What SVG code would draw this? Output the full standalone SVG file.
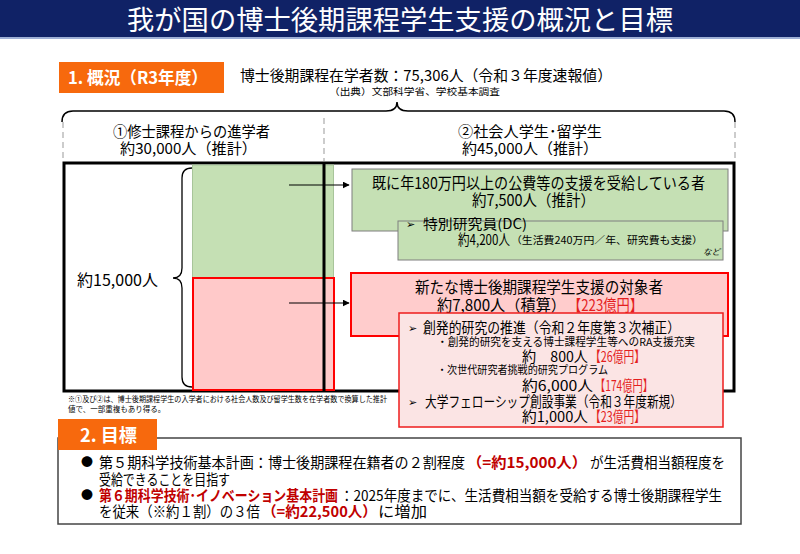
<svg xmlns="http://www.w3.org/2000/svg" width="800" height="554" viewBox="0 0 800 554">
<style>
text{font-family:"Noto Sans CJK JP","Noto Sans",sans-serif;fill:#000}
.w{fill:#fff}
.b{font-weight:bold}
.r{fill:#e41e1e}
.dr{fill:#c00000;font-weight:bold}
.dash{stroke:#999;stroke-width:1;stroke-dasharray:6 4}
.sym{font-family:"DejaVu Sans",sans-serif}
</style>
<defs>
<marker id="ah" viewBox="0 0 10 10" refX="9" refY="5" markerWidth="7" markerHeight="7" markerUnits="userSpaceOnUse" orient="auto">
<path d="M0,0 L10,5 L0,10 z" fill="#000"/>
</marker>
</defs>
<rect width="800" height="554" fill="#fff"/>
<g id="title">
<rect x="0" y="0" width="800" height="37" fill="#102266"/>
<rect x="0" y="37" width="800" height="2" fill="#9fb0d6"/>
<text class="w" x="127" y="30" font-size="27" textLength="546" lengthAdjust="spacingAndGlyphs">我が国の博士後期課程学生支援の概況と目標</text>
</g>
<g id="sec1">
<rect x="59" y="62" width="165" height="31" fill="#f7690d"/>
<text class="w b" x="68" y="84" font-size="17" textLength="140" lengthAdjust="spacingAndGlyphs">1. 概況（R3年度）</text>
<text x="240" y="81" font-size="15" textLength="372" lengthAdjust="spacingAndGlyphs">博士後期課程在学者数：75,306人（令和３年度速報値）</text>
<text x="329" y="95" font-size="9.5" textLength="171" lengthAdjust="spacingAndGlyphs">（出典）文部科学省、学校基本調査</text>
</g>
<g id="topbrace">
<path d="M62,122 Q62,111 73,111 L386,111 Q397,111 397,102 Q397,111 408,111 L724,111 Q735,111 735,122" fill="none" stroke="#000" stroke-width="1.5"/>
<line class="dash" x1="63" y1="122" x2="63" y2="161"/>
<line class="dash" x1="324" y1="118" x2="324" y2="161"/>
<line class="dash" x1="735" y1="122" x2="735" y2="161"/>
</g>
<g id="label1">
<text x="113" y="137" font-size="15" textLength="157" lengthAdjust="spacingAndGlyphs">①修士課程からの進学者</text>
<text x="120" y="154" font-size="15" textLength="137" lengthAdjust="spacingAndGlyphs">約30,000人（推計）</text>
</g>
<g id="label2">
<text x="458" y="137" font-size="15" textLength="144" lengthAdjust="spacingAndGlyphs">②社会人学生･留学生</text>
<text x="462" y="154" font-size="15" textLength="136" lengthAdjust="spacingAndGlyphs">約45,000人（推計）</text>
</g>
<g id="mainbox">
<rect x="64" y="163" width="670" height="228" fill="#fff" stroke="#000" stroke-width="3"/>
</g>
<g id="greencol">
<rect x="192.5" y="165" width="141" height="113" fill="#c5e0b4" stroke="#a8c59a" stroke-width="1"/>
</g>
<g id="redcol">
<rect x="193" y="278" width="141" height="112" fill="#ffc9c9" stroke="#ff0000" stroke-width="2"/>
</g>
<line x1="324" y1="163" x2="324" y2="391" stroke="#000" stroke-width="3"/>
<g id="leftbrace">
<path d="M192,168 Q182,168 182,178 L182,268 Q182,278 173,278 Q182,278 182,288 L182,377 Q182,387 192,387" fill="none" stroke="#000" stroke-width="1.3"/>
<text x="77" y="286" font-size="16" textLength="81" lengthAdjust="spacingAndGlyphs">約15,000人</text>
</g>
<g id="connectors">
<line x1="289" y1="185" x2="349" y2="185" stroke="#000" stroke-width="1.2" marker-end="url(#ah)"/>
<line x1="289" y1="303" x2="349" y2="303" stroke="#000" stroke-width="1.2" marker-end="url(#ah)"/>
</g>
<g id="green1">
<rect x="352" y="169" width="376" height="62" fill="#c5e0b4" stroke="#7f7f7f" stroke-width="1"/>
<text x="372" y="189" font-size="15.5" textLength="333" lengthAdjust="spacingAndGlyphs">既に年180万円以上の公費等の支援を受給している者</text>
<text x="472" y="206" font-size="15.5" textLength="123" lengthAdjust="spacingAndGlyphs">約7,500人（推計）</text>
</g>
<g id="green2">
<rect x="398" y="221" width="325" height="39" fill="#c5e0b4" stroke="#7f7f7f" stroke-width="1"/>
<text class="sym" x="406" y="228" font-size="11">➢</text>
<text x="423" y="229" font-size="14" textLength="104" lengthAdjust="spacingAndGlyphs">特別研究員(DC)</text>
<text x="458" y="245" font-size="14.5" textLength="52" lengthAdjust="spacingAndGlyphs">約4,200人</text>
<text x="511" y="244" font-size="10" textLength="192" lengthAdjust="spacingAndGlyphs">（生活費240万円／年、研究費も支援）</text>
<text x="720" y="255" font-size="8.5" text-anchor="end" font-style="italic">など</text>
</g>
<g id="red1">
<rect x="351" y="273" width="377" height="63" fill="#ffcccc" stroke="#ff0000" stroke-width="2"/>
<text x="415" y="293" font-size="15.5" textLength="248" lengthAdjust="spacingAndGlyphs">新たな博士後期課程学生支援の対象者</text>
<text x="437" y="311" font-size="15.5" textLength="129" lengthAdjust="spacingAndGlyphs">約7,800人（積算）</text>
<text class="r" x="568" y="311" font-size="15.5" textLength="75" lengthAdjust="spacingAndGlyphs">【223億円】</text>
</g>
<g id="red2">
<rect x="399" y="313" width="324" height="114" fill="#fbe4e4" stroke="#ee1c1c" stroke-width="1.5"/>
<text class="sym" x="408" y="332" font-size="11">➢</text>
<text x="423" y="333" font-size="14.5" textLength="257" lengthAdjust="spacingAndGlyphs">創発的研究の推進（令和２年度第３次補正）</text>
<text x="437" y="346" font-size="11" textLength="258" lengthAdjust="spacingAndGlyphs">・創発的研究を支える博士課程学生等へのRA支援充実</text>
<text x="522" y="362" font-size="14.5" textLength="66" lengthAdjust="spacingAndGlyphs">約　800人</text>
<text class="r" x="590" y="362" font-size="14.5" textLength="55" lengthAdjust="spacingAndGlyphs">【26億円】</text>
<text x="437" y="374" font-size="11" textLength="171" lengthAdjust="spacingAndGlyphs">・次世代研究者挑戦的研究プログラム</text>
<text x="522" y="391" font-size="14.5" textLength="71" lengthAdjust="spacingAndGlyphs">約6,000人</text>
<text class="r" x="595" y="391" font-size="14.5" textLength="58" lengthAdjust="spacingAndGlyphs">【174億円】</text>
<text class="sym" x="408" y="406" font-size="11">➢</text>
<text x="425" y="407" font-size="14.5" textLength="257" lengthAdjust="spacingAndGlyphs">大学フェローシップ創設事業（令和３年度新規）</text>
<text x="522" y="422" font-size="14.5" textLength="66" lengthAdjust="spacingAndGlyphs">約1,000人</text>
<text class="r" x="590" y="422" font-size="14.5" textLength="55" lengthAdjust="spacingAndGlyphs">【23億円】</text>
</g>
<g id="footnote">
<text x="68" y="402" font-size="7.5" fill="#333" textLength="319" lengthAdjust="spacingAndGlyphs">※①及び②は、博士後期課程学生の入学者における社会人数及び留学生数を在学者数で換算した推計</text>
<text x="68" y="412" font-size="7.5" fill="#333">値で、一部重複もあり得る。</text>
</g>
<g id="sec2">
<rect x="58" y="438" width="683" height="86" fill="#fff" stroke="#444" stroke-width="1.5"/>
<rect x="58" y="419" width="99" height="31" fill="#f7690d"/>
<text class="w b" x="80" y="442" font-size="18" textLength="57" lengthAdjust="spacingAndGlyphs">2. 目標</text>
<text x="81" y="467" font-size="12">●</text>
<text x="99" y="468" font-size="14.5" textLength="366" lengthAdjust="spacingAndGlyphs">第５期科学技術基本計画：博士後期課程在籍者の２割程度</text>
<text class="dr" x="467" y="468" font-size="14.5" textLength="120" lengthAdjust="spacingAndGlyphs">（=約15,000人）</text>
<text x="590" y="468" font-size="14.5" textLength="135" lengthAdjust="spacingAndGlyphs">が生活費相当額程度を</text>
<text x="99" y="485" font-size="14.5" textLength="131" lengthAdjust="spacingAndGlyphs">受給できることを目指す</text>
<text x="81" y="500" font-size="12" fill="#c00000">●</text>
<text class="dr" x="99" y="501" font-size="14.5" textLength="239" lengthAdjust="spacingAndGlyphs">第６期科学技術･イノベーション基本計画</text>
<text x="340" y="501" font-size="14.5" textLength="382" lengthAdjust="spacingAndGlyphs">：2025年度までに、生活費相当額を受給する博士後期課程学生</text>
<text x="99" y="517" font-size="14.5" textLength="161" lengthAdjust="spacingAndGlyphs">を従来（※約１割）の３倍</text>
<text class="dr" x="262" y="517" font-size="14.5" textLength="115" lengthAdjust="spacingAndGlyphs">（=約22,500人）</text>
<text x="378" y="517" font-size="14.5" textLength="49" lengthAdjust="spacingAndGlyphs">に増加</text>
</g>
</svg>
